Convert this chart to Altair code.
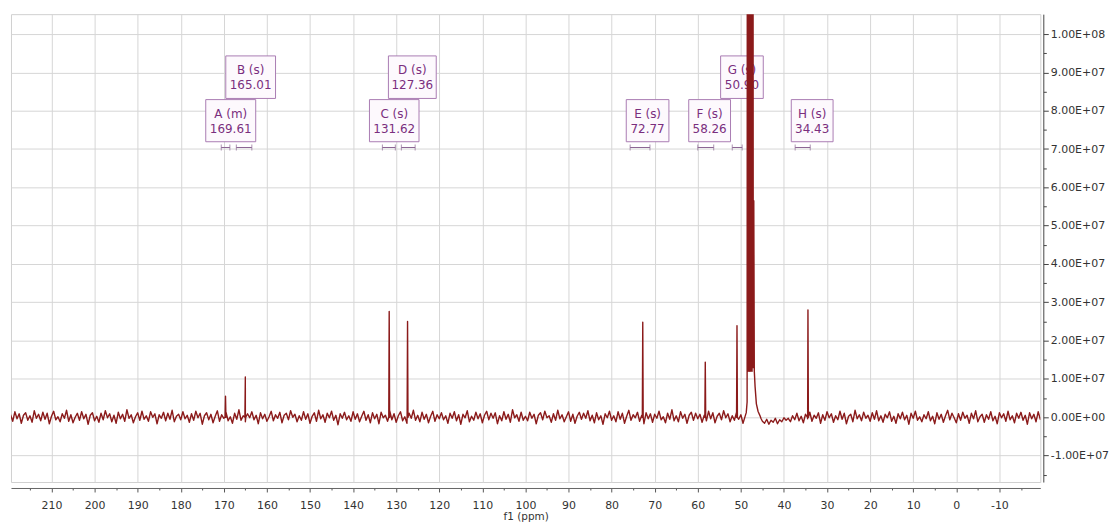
import altair as alt
import pandas as pd

# ---------------- data ----------------
# baseline noise, units of 1e5, one value every 0.5 ppm from 219.5 ppm downwards
NOISE_START = 219.5
NOISE_STEP = 0.5
NOISE_ROWS = [
    [5, -8, 11, -3, 7, -12, 4, 9, -6, 3, -10, 13, -2, 6, -7, 10, -4, 8, -13, 2, 12, -5, 1, -9, 7, -2, 14, -8, 5, -11, 0, 8, -6, 11, -3, 6, -14, 4, 9, -7],
    [2, -10, 8, -5, 13, -1, 7, -9, 4, -12, 10, -3, 6, -8, 15, -2, 5, -11, 1, 9, -6, 12, -4, 3, -8, 11, 0, 7, -13, 5, -2, 10, -7, 8, -4, 14, -9, 2, 6, -5],
    [11, -3, 4, -10, 7, -6, 12, -1, 8, -14, 3, 9, -5, 6, -11, 2, 13, -8, 5, -2, 10, -7, 1, -12, 8, -4, 15, -6, 3, -9, 7, -1, 11, -5, 4, -13, 9, -3, 6, -8],
    [1, 12, -7, 5, -2, 10, -11, 4, 8, -5, 13, 0, 6, -9, 3, -6, 11, -4, 7, -12, 2, 9, -8, 14, -3, 5, -10, 8, -1, 12, -6, 4, -15, 7, -2, 10, -5, 3, -8, 11],
    [-4, 7, -9, 2, 12, -6, 5, -11, 9, -3, 6, -13, 10, -1, 4, -8, 13, -5, 7, -10, 3, 11, -7, 1, -12, 8, -2, 14, -6, 4, -9, 10, -4, 6, -11, 2, 12, -8, 5, -3],
    [9, -5, 3, -12, 8, -2, 11, -7, 5, -14, 6, -1, 13, -9, 2, -6, 10, -3, 7, -11, 4, 12, -5, 8, -2, 9, -13, 3, -7, 11, -4, 6, -10, 15, -1, 5, -8, 10, -6, 2],
    [-7, 10, -2, 6, -13, 4, 9, -5, 12, -1, 3, -10, 7, -6, 14, -3, 5, -9, 1, 11, -8, 6, -12, 2, 10, -4, 8, -2, 13, -7, 4, -11, 9, -5, 3, -14, 7, -1, 12, -6],
    [3, -9, 11, -4, 8, -12, 2, 14, -6, 5, -1, 10, -8, 4, -13, 9, -3, 7, -10, 6, -2, 12, -5, 1, -11, 8, -4, 15, -7, 3, -9, 11, -2, 6, -12, 4, 10, -6, 8, -3],
    [6, -10, 4, -7, 12, -3, 9, -11, 2, 8, -5, 13, -1, 7, -9, 3, -6, 10, -4, 5, -12, 2, 9, -7, 4, -3, 6, -2, 3, -8, -12, -4, -14, -6, -10, -2, -13, -5, -9, -1],
    [-6, -2, -9, 3, -5, 8, -7, 2, -11, 6, -3, 10, -8, 4, -2, 9, -12, 5, -6, 11, -1, 7, -10, 3, -5, 12, -4, 8, -13, 2, 6, -9, 14, -3, 5, -7, 10, -2, 4, -8],
    [9, -4, 13, -7, 3, -10, 6, -1, 11, -8, 2, -12, 7, -3, 10, -5, 4, -14, 8, -2, 12, -6, 1, -9, 5, -3, 11, -7, 2, -13, 9, -4, 6, -10, 3, 14, -5, 8, -1, -11],
    [7, -6, 10, -2, 4, -12, 8, -3, 13, -9, 1, 6, -10, 5, -4, 11, -7, 2, -13, 9, -1, 7, -8, 12, -5, 3, -11, 8, -2, 10, -6, 4, -14, 9, -3, 6, -9, 11, -4, 2],
]
NOISE_UNIT = 1.3e5
SOLVENT_GAP = [49.1, 45.2]  # noise replaced by the solvent signal in this window

# resolved peaks (ppm, intensity)
PEAK_PPM = [169.61, 165.01, 131.62, 127.36, 72.77, 58.26, 50.90, 34.43]
PEAK_HEIGHT = [5.5e6, 1.05e7, 2.76e7, 2.5e7, 2.48e7, 1.44e7, 2.39e7, 2.8e7]

# off-scale solvent signal
SOLVENT_PPM = [49.0, 48.75, 48.55, 48.45, 48.3, 48.15, 48.0, 47.85, 47.7, 47.55,
               47.4, 47.25, 47.12, 47.0, 46.88, 46.7, 46.4, 46.0, 45.6, 45.3]
SOLVENT_VAL = [3e5, 1.2e6, 4e6, 3e8, 1.2e7, 3e8, 1.2e7, 3e8, 1.2e7, 3e8,
               1.2e7, 3e8, 1.3e7, 5.65e7, 1.2e7, 8e6, 3.5e6, 1.5e6, 5e5, -4e5]

# multiplet annotation boxes
LBL_NAME = ["A (m)", "B (s)", "C (s)", "D (s)", "E (s)", "F (s)", "G (s)", "H (s)"]
LBL_SHIFT = ["169.61", "165.01", "131.62", "127.36", "72.77", "58.26", "50.90", "34.43"]
BOX_LEFT = [174.2, 169.55, 136.2, 131.8, 76.6, 62.1, 54.7, 38.3]
BOX_RIGHT = [162.6, 158.0, 124.7, 120.7, 66.7, 52.4, 44.8, 28.6]
BOX_TOP = [8.29e7, 9.43e7, 8.29e7, 9.43e7, 8.29e7, 8.29e7, 9.43e7, 8.29e7]
BOX_BOTTOM = [7.19e7, 8.32e7, 7.19e7, 8.32e7, 7.19e7, 7.19e7, 8.32e7, 7.19e7]

# integration range brackets
RANGE_FROM = [170.6, 167.1, 133.2, 128.8, 75.7, 60.0, 52.0, 37.4]
RANGE_TO = [168.6, 163.5, 130.2, 125.6, 71.1, 56.3, 49.7, 33.9]
RANGE_LEVEL = 7.04e7

X_DOMAIN = [219.4, -19.5]
Y_DOMAIN = [-1.69e7, 1.052e8]
X_TICKS = [215 - 5 * i for i in range(47)]
Y_TICKS = [5e6 * i for i in range(-3, 21)]

# ---------------- tables ----------------
noise = [v for row in NOISE_ROWS for v in row]
pts = []
for i, v in enumerate(noise):
    p = NOISE_START - NOISE_STEP * i
    if SOLVENT_GAP[1] < p < SOLVENT_GAP[0]:
        continue
    pts.append((p, v * NOISE_UNIT))
for p, h in zip(PEAK_PPM, PEAK_HEIGHT):
    pts += [(p + 0.1, 0.0), (p, h), (p - 0.1, 0.0)]
for p, v in zip(SOLVENT_PPM, SOLVENT_VAL):
    pts.append((p, v))
spec = pd.DataFrame(pts, columns=["ppm", "intensity"]).sort_values("ppm", ascending=False)

boxes = pd.DataFrame({
    "name": LBL_NAME, "shift": LBL_SHIFT,
    "left": BOX_LEFT, "right": BOX_RIGHT, "top": BOX_TOP, "bottom": BOX_BOTTOM,
})
boxes["cx"] = (boxes["left"] + boxes["right"]) / 2
boxes["cy"] = (boxes["top"] + boxes["bottom"]) / 2

ranges = pd.DataFrame({"a": RANGE_FROM, "b": RANGE_TO, "lvl": RANGE_LEVEL})
ends = pd.DataFrame({"p": RANGE_FROM + RANGE_TO, "lvl": RANGE_LEVEL})

# ---------------- chart ----------------
FONT = "DejaVu Sans"
LINE = "#8B1A1A"
PURPLE_TXT = "#7a2e7e"
PURPLE_BOX = "#a97cb2"

xs = alt.Scale(domain=X_DOMAIN, nice=False, zero=False)
ys = alt.Scale(domain=Y_DOMAIN, nice=False, zero=False)

MINOR_X = "datum.value % 10 != 0"
MINOR_Y = "datum.value % 10000000 != 0"

x_axis = alt.Axis(
    orient="bottom", values=X_TICKS,
    labelExpr="datum.value % 10 == 0 ? '' + datum.value : ''",
    grid=True, gridColor="#d6d6d6",
    gridOpacity={"condition": {"test": MINOR_X, "value": 0}, "value": 1},
    tickSize={"condition": {"test": MINOR_X, "value": 2}, "value": 4},
    tickColor="#555555", domainColor="#666666",
    labelFont=FONT, labelFontSize=11, labelColor="#333333",
    labelPadding=8, labelOverlap=False,
    title="f1 (ppm)", titleFont=FONT, titleFontSize=10.5, titleFontWeight="normal",
    titleColor="#333333", titlePadding=1, offset=6,
)
y_axis = alt.Axis(
    orient="right", values=Y_TICKS,
    labelExpr=("datum.value % 10000000 != 0 ? '' : "
               "replace(replace(upper(format(datum.value, '.2e')), 'E+', 'E+0'), '\u2212', '-')"),
    grid=True, gridColor="#d6d6d6",
    gridOpacity={"condition": {"test": MINOR_Y, "value": 0}, "value": 1},
    tickSize={"condition": {"test": MINOR_Y, "value": 3}, "value": 5},
    tickColor="#444444", domainColor="#444444",
    labelFont=FONT, labelFontSize=11, labelColor="#333333",
    labelPadding=2, labelOverlap=False, title=None, offset=3,
)


def X(field):
    return alt.X(field, type="quantitative", scale=xs, axis=x_axis, title="f1 (ppm)")


def Y(field):
    return alt.Y(field, type="quantitative", scale=ys, axis=y_axis, title=None)


line = alt.Chart(spec).mark_line(
    color=LINE, strokeWidth=1.4, clip=True, strokeJoin="round"
).encode(x=X("ppm"), y=Y("intensity"))
rects = alt.Chart(boxes).mark_rect(
    fill="#fdf9fd", stroke=PURPLE_BOX, strokeWidth=1
).encode(x=X("left"), x2="right:Q", y=Y("top"), y2="bottom:Q")
txt1 = alt.Chart(boxes).mark_text(
    font=FONT, fontSize=12, color=PURPLE_TXT, dy=-7, baseline="middle", align="center"
).encode(x=X("cx"), y=Y("cy"), text="name:N")
txt2 = alt.Chart(boxes).mark_text(
    font=FONT, fontSize=12, color=PURPLE_TXT, dy=8, baseline="middle", align="center"
).encode(x=X("cx"), y=Y("cy"), text="shift:N")
brk = alt.Chart(ranges).mark_rule(color="#8a6592", strokeWidth=1).encode(
    x=X("a"), x2="b:Q", y=Y("lvl"))
brk_ends = alt.Chart(ends).mark_tick(
    orient="vertical", size=6, thickness=1, color="#8a6592"
).encode(x=X("p"), y=Y("lvl"))

chart = alt.layer(rects, txt1, txt2, brk, brk_ends, line).properties(
    width=1034, height=470,
    padding={"left": 3, "top": 5, "right": 70, "bottom": 42},
    autosize=alt.AutoSizeParams(type="none"),
    background="white",
).configure_view(stroke="#d0d0d0")

chart.save("out.html", embed_options={"renderer": "svg", "actions": False})
